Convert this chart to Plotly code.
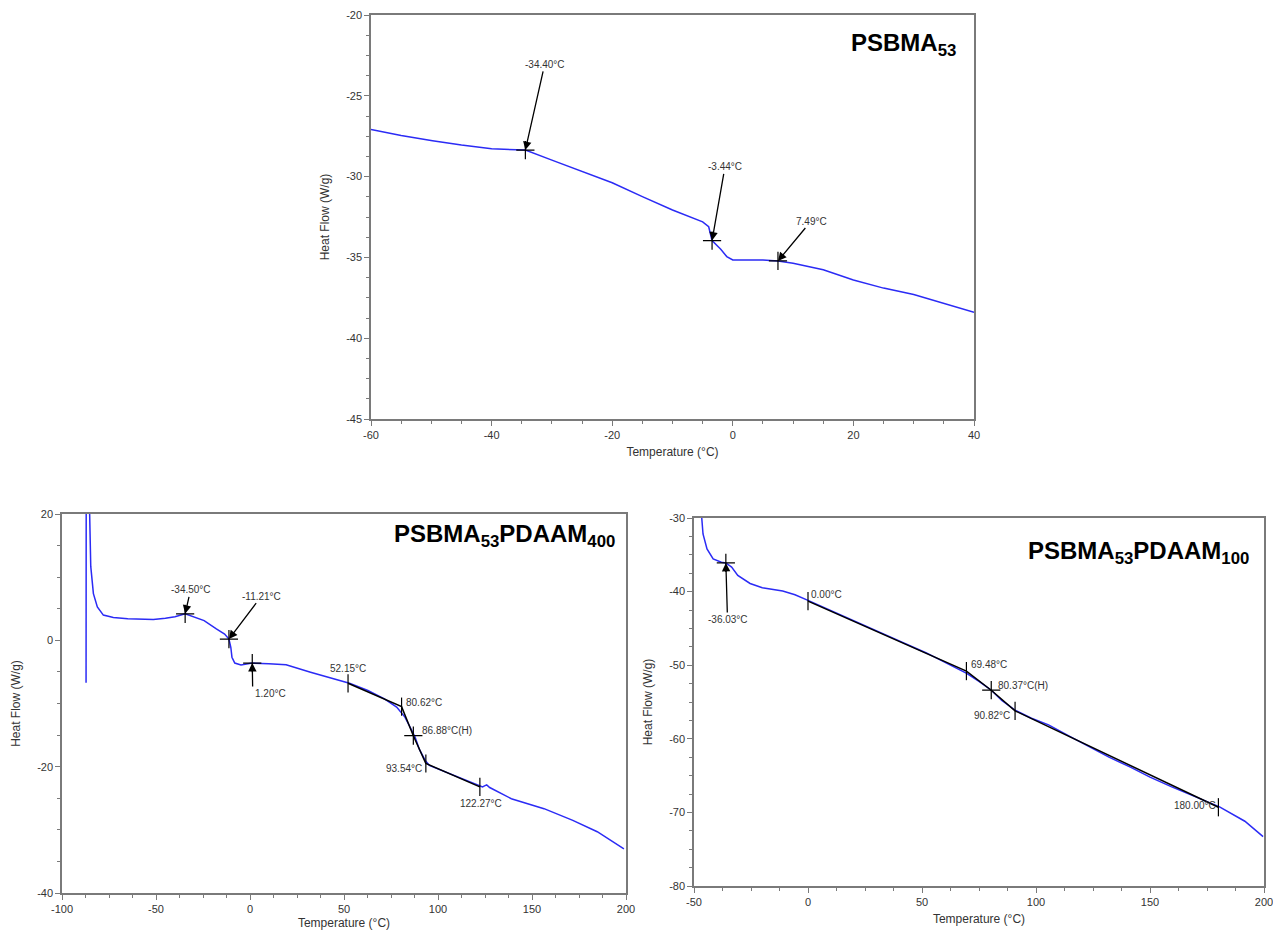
import plotly.graph_objects as go

# ---------------- DATA ----------------
# Top: PSBMA53
top_T = [-60, -55, -49.8, -45, -40, -34.4, -30, -25, -20, -15, -10, -5, -4, -3.44, -2, -1, 0, 5, 7.49, 10, 15, 20, 25, 30, 35, 40]
top_HF = [-27.08, -27.45, -27.78, -28.05, -28.28, -28.36, -28.98, -29.7, -30.38, -31.24, -32.07, -32.8, -33.1, -33.96, -34.5, -34.95, -35.16, -35.16, -35.22, -35.36, -35.77, -36.4, -36.9, -37.3, -37.83, -38.4]
top_mark_T = [-34.40, -3.44, 7.49]
top_mark_HF = [-28.36, -33.96, -35.22]
top_labels = ["-34.40°C", "-3.44°C", "7.49°C"]
top_xticks = [-60, -40, -20, 0, 20, 40]
top_yticks = [-45, -40, -35, -30, -25, -20]

# Bottom-left: PSBMA53PDAAM400
bl_T = [-87.2, -87.1, -86.0, -85.5, -84.7, -83.3, -81.2, -78, -72.7, -65, -51.4, -45, -39.9, -34.5, -28.8, -24.4, -17.9, -13.5, -11.2,
        -10.2, -9.6, -8.1, -4.8, -2, 1.2, 10, 19.2, 32.2, 45.3, 52.9, 62.7, 71.5, 78, 82.4, 85.6, 87.8, 90, 93.2, 95.4, 106.3,
        123.7, 125.0, 125.9, 127.5, 139, 156.4, 171.7, 184.7, 198.9]
bl_HF = [-6.7, 30, 30, 20, 11.7, 7.4, 5.3, 4.0, 3.6, 3.4, 3.3, 3.5, 3.75, 4.2, 3.66, 3.13, 1.8, 1.0, 0.2,
         -1.1, -2.67, -3.6, -3.9, -3.75, -3.6, -3.7, -3.88, -5.04, -6.1, -6.78, -7.94, -9.26, -10.57, -12.16, -14.0, -15.3, -17.2, -19.0, -19.8, -21.1,
         -23.2, -23.0, -22.9, -23.3, -25.07, -26.65, -28.5, -30.3, -33.0]
bl_mark_T = [-34.50, -11.21, 1.20, 52.15, 80.62, 86.88, 93.54, 122.27]
bl_mark_HF = [4.2, 0.2, -3.6, -6.8, -10.5, -15.1, -19.5, -23.2]
bl_labels = ["-34.50°C", "-11.21°C", "1.20°C", "52.15°C", "80.62°C", "86.88°C(H)", "93.54°C", "122.27°C"]
bl_tan_T = [52.15, 80.62, 86.88, 93.54, 122.27]
bl_tan_HF = [-6.8, -10.5, -15.1, -19.5, -23.2]
bl_xticks = [-100, -50, 0, 50, 100, 150, 200]
bl_yticks = [-40, -20, 0, 20]

# Bottom-right: PSBMA53PDAAM100
br_T = [-46.6, -46.05, -44.3, -41.6, -38, -36.03, -33.5, -30.8, -25.4, -20.05, -11.1, -5.7, 0.0, 20, 40, 51.7, 60, 69.6, 75, 80.4, 85,
        90.8, 98, 105.5, 115, 123.4, 132, 141.4, 150, 159.3, 170, 180.5, 191.6, 199.6]
br_HF = [-30, -32.17, -34.2, -35.55, -36.0, -36.1, -36.68, -37.8, -38.9, -39.48, -39.93, -40.42, -41.2, -44.0, -46.7, -48.3, -49.6, -51.1, -52.2, -53.4, -54.8,
         -56.1, -57.2, -58.1, -59.7, -61.1, -62.5, -63.85, -65.2, -66.5, -67.9, -69.25, -71.2, -73.3]
br_mark_T = [-36.03, 0.00, 69.48, 80.37, 90.82, 180.00]
br_mark_HF = [-36.1, -41.3, -50.8, -53.4, -56.2, -69.3]
br_labels = ["-36.03°C", "0.00°C", "69.48°C", "80.37°C(H)", "90.82°C", "180.00°C"]
br_tan_T = [0.00, 69.48, 80.37, 90.82, 180.00]
br_tan_HF = [-41.3, -50.8, -53.4, -56.2, -69.3]
br_xticks = [-50, 0, 50, 100, 150, 200]
br_yticks = [-80, -70, -60, -50, -40, -30]

titles = ["PSBMA<sub>53</sub>", "PSBMA<sub>53</sub>PDAAM<sub>400</sub>", "PSBMA<sub>53</sub>PDAAM<sub>100</sub>"]
x_title = "Temperature (°C)"
y_title = "Heat Flow (W/g)"

# ---------------- STYLE ----------------
FONT = "Liberation Sans, Arial, sans-serif"
TFONT = "Liberation Sans, Arial, sans-serif"
BLUE = "#2b2bf5"
AXC = "#7a7a7a"
TXT = "#333333"

fig = go.Figure()

def add_curve(xa, ya, T, HF):
    fig.add_trace(go.Scatter(x=T, y=HF, mode="lines", line=dict(color=BLUE, width=1.5),
                             xaxis=xa, yaxis=ya, showlegend=False, hoverinfo="skip"))

def add_tangent(xa, ya, T, HF):
    fig.add_trace(go.Scatter(x=T, y=HF, mode="lines", line=dict(color="black", width=1.5),
                             xaxis=xa, yaxis=ya, showlegend=False, hoverinfo="skip"))

def add_marks(xa, ya, T, HF, symbols):
    fig.add_trace(go.Scatter(x=T, y=HF, mode="markers",
                             marker=dict(symbol=symbols, size=13, color="black",
                                         line=dict(color="black", width=1.2)),
                             xaxis=xa, yaxis=ya, showlegend=False, hoverinfo="skip"))

# top
add_curve("x", "y", top_T, top_HF)
add_marks("x", "y", top_mark_T, top_mark_HF, ["cross-thin"] * 3)
# bottom-left
add_curve("x2", "y2", bl_T, bl_HF)
add_tangent("x2", "y2", bl_tan_T, bl_tan_HF)
add_marks("x2", "y2", bl_mark_T, bl_mark_HF,
          ["cross-thin", "cross-thin", "cross-thin", "line-ns", "line-ns", "cross-thin", "line-ns", "line-ns"])
# bottom-right
add_curve("x3", "y3", br_T, br_HF)
add_tangent("x3", "y3", br_tan_T, br_tan_HF)
add_marks("x3", "y3", br_mark_T, br_mark_HF,
          ["cross-thin", "line-ns", "line-ns", "cross-thin", "line-ns", "line-ns"])

def common(domain, rng, ticks, anchor):
    dtick = ticks[1] - ticks[0]
    return dict(domain=domain, range=rng, anchor=anchor, automargin=False,
                tickmode="array", tickvals=ticks, ticktext=[str(t) for t in ticks],
                showgrid=False, zeroline=False, showline=True, linecolor=AXC, linewidth=1.5, mirror=True,
                ticks="outside", ticklen=5, tickcolor=AXC, tickwidth=1,
                minor=dict(dtick=dtick / 4, tick0=rng[0], ticks="outside", ticklen=3, tickcolor=AXC, showgrid=False),
                tickfont=dict(family=FONT, size=11, color=TXT))

def xaxis(domain, rng, ticks, anchor):
    d = common(domain, rng, ticks, anchor)
    d["title"] = dict(text=x_title, font=dict(family=FONT, size=12, color=TXT), standoff=8)
    return d

def yaxis(domain, rng, ticks, anchor):
    d = common(domain, rng, ticks, anchor)
    d["title"] = dict(text=y_title, font=dict(family=FONT, size=12, color=TXT), standoff=14)
    return d

# page has an 8px body margin; lay out in page pixels minus that offset
OFF = 8
W, H = 1281 - OFF, 930 - OFF
def px_x(a, b): return [(a - OFF) / W, (b - OFF) / W]
def px_y(top, bot): return [1 - (bot - OFF) / H, 1 - (top - OFF) / H]

fig.update_layout(
    width=W, height=H, margin=dict(l=0, r=0, t=0, b=0, autoexpand=False),
    paper_bgcolor="white", plot_bgcolor="white",
    xaxis=xaxis(px_x(371, 974), [-60, 40], top_xticks, "y"),
    yaxis=yaxis(px_y(15, 419), [-45, -20], top_yticks, "x"),
    xaxis2=xaxis(px_x(62, 626), [-100, 200], bl_xticks, "y2"),
    yaxis2=yaxis(px_y(514, 893), [-40, 20], bl_yticks, "x2"),
    xaxis3=xaxis(px_x(694, 1264), [-50, 200], br_xticks, "y3"),
    yaxis3=yaxis(px_y(518, 886), [-80, -30], br_yticks, "x3"),
)

ann = []
def label(xr, yr, x, y, text, xanchor="center"):
    ann.append(dict(xref=xr, yref=yr, x=x, y=y, text=text, showarrow=False, xanchor=xanchor,
                    yanchor="middle", font=dict(family=FONT, size=10, color=TXT)))

def arrow_label(xr, yr, lx, ly, x1, y1, text, xanchor="auto", yanchor="auto"):
    # label sits at the arrow tail; arrow runs from the label box to the marked point
    ann.append(dict(xref=xr, yref=yr, axref=xr, ayref=yr, x=x1, y=y1, ax=lx, ay=ly, text=text,
                    xanchor=xanchor, yanchor=yanchor,
                    font=dict(family=FONT, size=10, color=TXT),
                    showarrow=True, arrowhead=2, arrowsize=1.3, arrowwidth=1.3, arrowcolor="black"))

# top labels
arrow_label("x", "y", -31.2, -23.05, top_mark_T[0], top_mark_HF[0], top_labels[0])
arrow_label("x", "y", -1.3, -29.4, top_mark_T[1], top_mark_HF[1], top_labels[1])
arrow_label("x", "y", 13.0, -32.75, top_mark_T[2], top_mark_HF[2], top_labels[2])

# bottom-left labels
arrow_label("x2", "y2", -31.6, 8.0, bl_mark_T[0], bl_mark_HF[0], bl_labels[0])
arrow_label("x2", "y2", 6.1, 7.0, bl_mark_T[1], bl_mark_HF[1], bl_labels[1])
arrow_label("x2", "y2", 1.4, -7.3, bl_mark_T[2], bl_mark_HF[2], bl_labels[2], "left", "top")
label("x2", "y2", 51.9, -4.5, bl_labels[3])
label("x2", "y2", 82.0, -9.8, bl_labels[4], "left")
label("x2", "y2", 90.5, -14.3, bl_labels[5], "left")
label("x2", "y2", 92.3, -20.3, bl_labels[6], "right")
label("x2", "y2", 122.7, -25.9, bl_labels[7])

# bottom-right labels
arrow_label("x3", "y3", -35.3, -43.8, br_mark_T[0], br_mark_HF[0], br_labels[0])
label("x3", "y3", 0.5, -40.4, br_labels[1], "left")
label("x3", "y3", 70.8, -49.95, br_labels[2], "left")
label("x3", "y3", 82.5, -52.75, br_labels[3], "left")
label("x3", "y3", 89.4, -56.9, br_labels[4], "right")
label("x3", "y3", 179.8, -69.1, br_labels[5], "right")

# panel titles
for (xr, yr, x, y), t in zip([("x", "y", 37.4, -21.8), ("x2", "y2", 195.2, 16.6), ("x3", "y3", 194.3, -34.7)], titles):
    ann.append(dict(xref=xr, yref=yr, x=x, y=y, text="<b>" + t + "</b>", showarrow=False,
                    xanchor="right", yanchor="middle", font=dict(family=TFONT, size=24, color="black")))

fig.update_layout(annotations=ann)
fig.write_html("out.html")
